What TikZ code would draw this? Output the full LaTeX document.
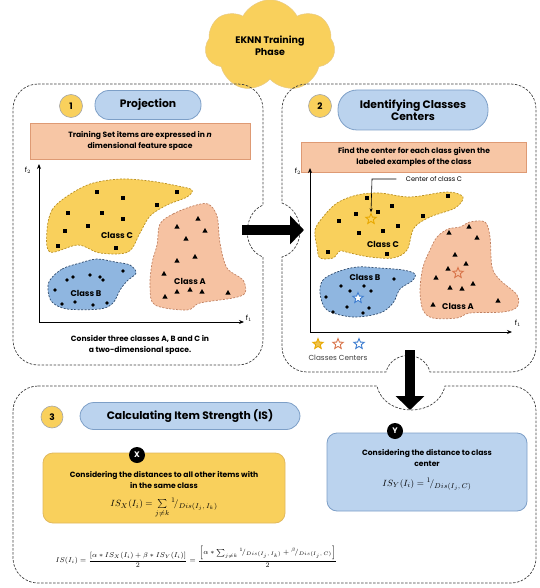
\documentclass[tikz,border=0pt]{standalone}
\usepackage{amsmath}
\usepackage{fontspec}
\setmainfont{Poppins}
\usetikzlibrary{shapes.geometric,shapes.symbols,arrows.meta}
\definecolor{yel}{HTML}{F9D05C}
\definecolor{yelD}{HTML}{D9A835}
\definecolor{orf}{HTML}{F7C6A5}
\definecolor{ord}{HTML}{DE9A74}
\definecolor{blf}{HTML}{BBD3EE}
\definecolor{bld}{HTML}{7D9FC7}
\definecolor{blob}{HTML}{8FB6E0}
\definecolor{blobD}{HTML}{2F4A6B}
\definecolor{orblob}{HTML}{F6C2A2}
\definecolor{orblobD}{HTML}{C08060}
\definecolor{yblobD}{HTML}{B98F22}
\definecolor{starY}{HTML}{E8A800}
\definecolor{starO}{HTML}{D8744A}
\definecolor{starB}{HTML}{3C7CD0}
\tikzset{
  panel/.style={draw=black!75, dashed, line width=0.7pt, dash pattern=on 2.5pt off 1.5pt},
  numc/.style={circle, fill=yel, draw=black!35, line width=0.6pt, minimum size=23pt, inner sep=0pt, font=\bfseries\fontsize{9}{10}\selectfont},
  pill/.style={rectangle, rounded corners=14pt, fill=blf, draw=bld, line width=0.8pt, inner sep=2pt, align=center, font=\bfseries\fontsize{10.8}{12}\selectfont},
  obox/.style={rectangle, fill=orf, draw=ord, line width=0.7pt, align=center, inner sep=2pt, font=\bfseries\fontsize{7.6}{10.5}\selectfont},
  txt/.style={align=center, font=\bfseries\fontsize{7.6}{11}\selectfont},
  blobline/.style={dashed, dash pattern=on 2pt off 1.5pt, line width=0.7pt},
  yblob/.style={blobline, fill=yel, draw=yblobD},
  oblob/.style={blobline, fill=orblob, draw=orblobD},
  bblob/.style={blobline, fill=blob, draw=blobD},
  clab/.style={font=\bfseries\fontsize{8.3}{9}\selectfont},
  axis/.style={line width=1pt, -{Stealth[length=5pt,width=4pt]}},
  bigarrow/.style={line width=10pt, -{Triangle[length=14pt,width=28pt]}},
  starm/.style={star, star points=5, star point ratio=2.3, minimum size=11pt, inner sep=0pt, line width=0.9pt},
  lett/.style={circle, fill=black, text=white, minimum size=16pt, inner sep=0pt, font=\bfseries\fontsize{8}{9}\selectfont},
  xbox/.style={rectangle, rounded corners=10pt, fill=yel, draw=yelD!80, line width=0.8pt},
  ybox/.style={rectangle, rounded corners=10pt, fill=blf, draw=bld, line width=0.8pt},
  lab/.style={font=\fontsize{7}{8}\selectfont},
  fml/.style={font=\fontsize{9.5}{11}\selectfont}
}
\begin{document}
\begin{tikzpicture}[x=1pt,y=-1pt]
\useasboundingbox (0,0) rectangle (539,588);

% title cloud
\node[cloud, cloud puffs=7, cloud puff arc=125, aspect=1.5, fill=yel, draw=yelD!60, line width=0.5pt,
      minimum width=130pt, minimum height=80pt, align=center,
      font=\bfseries\fontsize{9.5}{12}\selectfont] (cloud) at (270,46) {EKNN Training\\Phase};

% panels
\draw[panel] (38,84) -- (238,84) arc[start angle=90,end angle=0,radius=25pt] -- (263,205)
  .. controls (243,213) and (241,249) .. (263,257) -- (263,340)
  arc[start angle=0,end angle=-90,radius=25pt] -- (38,365)
  arc[start angle=-90,end angle=-180,radius=25pt] -- (13,109)
  arc[start angle=180,end angle=90,radius=25pt] -- cycle;
\draw[panel] (307,84) -- (511,84) arc[start angle=90,end angle=0,radius=25pt] -- (536,347)
  arc[start angle=0,end angle=-90,radius=25pt] -- (430,372)
  .. controls (424,350) and (392,350) .. (386,372) -- (307,372)
  arc[start angle=-90,end angle=-180,radius=25pt] -- (282,257)
  .. controls (306,250) and (306,212) .. (282,203) -- (282,109)
  arc[start angle=180,end angle=90,radius=25pt] -- cycle;
\draw[panel] (38,386) -- (377,386) .. controls (384,418) and (438,418) .. (445,386) -- (511,386)
  arc[start angle=90,end angle=0,radius=25pt] -- (536,558)
  arc[start angle=0,end angle=-90,radius=25pt] -- (38,583)
  arc[start angle=-90,end angle=-180,radius=25pt] -- (13,411)
  arc[start angle=180,end angle=90,radius=25pt] -- cycle;

% connecting arrows
\coordinate (ar1s) at (242,230);
\coordinate (ar1e) at (304,230);
\draw[bigarrow] (ar1s) -- (ar1e);
\coordinate (ar2s) at (410,350);
\coordinate (ar2e) at (410,410);
\draw[bigarrow] (ar2s) -- (ar2e);

% ---------------- panel 1
\node[numc] (n1) at (71,106) {1};
\node[pill, minimum width=106pt, minimum height=29pt] (p1) at (148,105) {Projection};
\node[obox, minimum width=220pt, minimum height=36pt] (o1) at (140,141)
  {Training Set items are expressed in \textit{n}\\dimensional feature space};
\coordinate (o1o) at (39,322);
\coordinate (o1y) at (39,164);
\coordinate (o1x) at (244,322);
\draw[axis] (o1o) -- (o1y);
\draw[axis] (o1o) -- (o1x);
\node[lab] (f2a) at (28,170) {f$_2$};
\node[lab] (f1a) at (249,318) {f$_1$};

\draw[yblob] plot[smooth cycle, tension=0.55] coordinates {(47,230) (52,210) (66,197) (90,184) (120,179) (150,181) (178,186) (192,190) (187,197) (167,205) (150,216) (140,233) (128,252) (100,253) (78,245) (50,252)};
\draw[oblob] plot[smooth cycle, tension=0.55] coordinates {(160,224) (173,214) (193,206) (208,204) (217,216) (220,243) (227,268) (243,280) (245,293) (233,298) (200,303) (187,310) (155,305) (150,287) (152,263) (157,245)};
\draw[bblob] plot[smooth cycle, tension=0.55] coordinates {(50,280) (62,269) (80,263) (97,259) (115,262) (130,265) (136,273) (127,281) (120,290) (113,303) (100,309) (67,309) (52,302) (48,290)};

\foreach \p in {(97,192),(123,198),(177,192),(157,205),(68,213),(102,213),(123,219),(88,226),(65,231),(58,246),(116,248)}
  \fill \p ++(-2.2,-2.2) rectangle ++(4.4,4.4);
\foreach \p in {(177,227),(198,219),(205,231),(186,239),(195,257),(177,261),(164,274),(165,297),(177,292),(190,290),(202,292),(228,293)}
  \fill \p ++(0,-3) -- ++(2.6,4.6) -- ++(-5.2,0) -- cycle;
\foreach \p in {(73,277),(67,280),(90,275),(100,277),(103,280),(123,271),(55,290),(62,304),(75,302),(93,305),(107,303)}
  \fill \p circle (1.9pt);
\node[clab] (cC1) at (117,235) {Class C};
\node[clab] (cA1) at (190,281) {Class A};
\node[clab] (cB1) at (86,293) {Class B};
\node[txt] (cap1) at (140,345) {Consider three classes A, B and C in\\a two-dimensional space.};

% ---------------- panel 2
\node[numc] (n2) at (320,106) {2};
\node[pill, minimum width=150pt, minimum height=40pt, rounded corners=19pt, font=\bfseries\fontsize{10.8}{11.5}\selectfont] (p2) at (413,110) {Identifying Classes\\Centers};
\node[obox, minimum width=225pt, minimum height=30pt] (o2) at (414,157)
  {Find the center for each class given the\\labeled examples of the class};
\coordinate (o2o) at (310,332);
\coordinate (o2y) at (310,168);
\coordinate (o2x) at (512,332);
\draw[axis] (o2o) -- (o2y);
\draw[axis] (o2o) -- (o2x);
\node[lab] (f2b) at (298,171) {f$_2$};
\node[lab] (f1b) at (518,323) {f$_1$};

\draw[yblob] plot[smooth cycle, tension=0.55] coordinates {(317,247) (315,230) (323,217) (337,203) (357,195) (380,193) (410,197) (447,192) (463,197) (455,208) (430,217) (414,228) (407,250) (393,258) (370,257) (350,253) (340,251) (333,258) (320,258)};
\draw[bblob] plot[smooth cycle, tension=0.55] coordinates {(323,280) (337,272) (357,267) (380,268) (403,270) (415,274) (412,281) (400,289) (393,303) (380,313) (353,317) (327,310) (320,293)};
\draw[oblob] plot[smooth cycle, tension=0.55] coordinates {(430,250) (437,237) (448,229) (460,227) (470,222) (485,222) (490,237) (492,267) (500,280) (517,295) (517,307) (503,312) (470,313) (457,318) (433,318) (423,310) (420,290) (423,267)};

\foreach \p in {(367,198),(392,206),(378,212),(356,214),(448,196),(423,216),(339,221),(398,226),(383,231),(359,233),(328,252),(387,254)}
  \fill \p ++(-2.2,-2.2) rectangle ++(4.4,4.4);
\foreach \p in {(449,233),(469,227),(477,238),(455,255),(466,264),(448,269),(436,278),(473,284),(450,288),(462,289),(433,305),(498,301)}
  \fill \p ++(0,-3) -- ++(2.6,4.6) -- ++(-5.2,0) -- cycle;
\foreach \p in {(394,279),(364,286),(371,291),(341,286),(350,291),(326,297),(347,307),(369,308),(363,313),(333,312)}
  \fill \p circle (1.9pt);
\node[clab] (cC2) at (383,244) {Class C};
\node[clab] (cB2) at (365,277) {Class B};
\node[clab] (cA2) at (458,306) {Class A};
\node[starm, draw=starY] (sC) at (371,219) {};
\node[starm, draw=starO] (sA) at (458,273) {};
\node[starm, draw=starB, fill=white] (sB) at (358,298) {};

\node[font=\fontsize{6.6}{8}\selectfont] (cct) at (434,179) {Center of class C};
\coordinate (ccb) at (372,179);
\draw[line width=0.6pt, -{Stealth[length=4pt,width=3pt]}] ([xshift=-6pt]cct.west) -- (ccb) -- (sC.north);

\node[starm, draw=starY, fill=starY!70] (lsY) at (318,344) {};
\node[starm, draw=starO] (lsO) at (338,344) {};
\node[starm, draw=starB] (lsB) at (359,344) {};
\node[font=\fontsize{7.3}{8}\selectfont, text=black!75] (lt) at (338,358) {Classes Centers};

% ---------------- panel 3
\node[numc, minimum size=22pt] (n3) at (52,417) {3};
\node[pill, minimum width=220pt, minimum height=27pt] (p3) at (190,416) {Calculating Item Strength (IS)};

\node[xbox, minimum width=242pt, minimum height=70pt] (bx) at (164,488) {};
\node[lett] (lx) at (137,455) {X};
\node[txt] (tx) at (164,480) {Considering the distances to all other items with\\in the same class};
\node[fml] (fx) at (164,508) {$IS_X(I_i) = \sum\limits_{j\neq k} {}^{1}\!/_{Dis(I_j,\,I_k)}$};

\node[ybox, minimum width=200pt, minimum height=78pt] (by) at (427,472) {};
\node[lett] (ly) at (395,431) {Y};
\node[txt] (ty) at (427,458) {Considering the distance to class\\center};
\node[fml] (fy) at (427,484) {$IS_Y(I_i) = {}^{1}\!/_{Dis(I_j,\,C)}$};

\node[anchor=west, font=\fontsize{7.5}{9}\selectfont] (fis) at (52,557)
 {$IS(I_i) = \dfrac{[\alpha * IS_X(I_i) + \beta * IS_Y(I_i)]}{2} = \dfrac{\left[\alpha * \sum_{j\neq k} {}^{1}\!/_{Dis(I_j,\,I_k)} + {}^{\beta}\!/_{Dis(I_j,\,C)}\right]}{2}$};
\end{tikzpicture}
\end{document}
